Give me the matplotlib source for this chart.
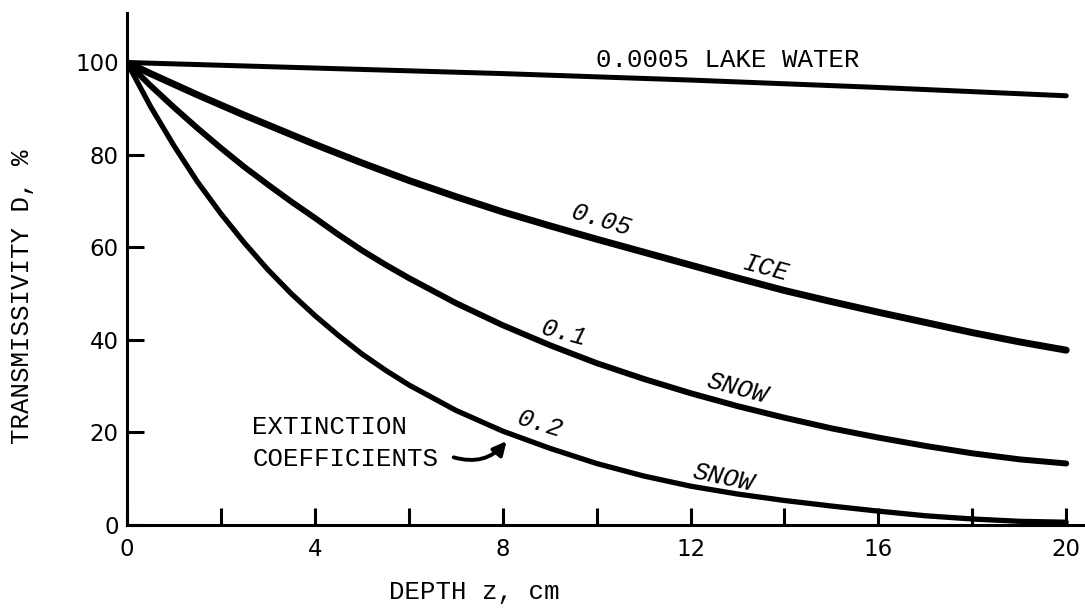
import matplotlib
matplotlib.use("Agg")
import matplotlib.pyplot as plt

# depth z, cm
depth = [0, 0.5, 1, 1.5, 2, 2.5, 3, 3.5, 4, 4.5, 5, 5.5, 6, 7, 8, 9, 10,
         11, 12, 13, 14, 15, 16, 17, 18, 19, 20]
depth_lake = [0, 4, 8, 12, 16, 20]

# transmissivity D, %
lake_water = [100, 98.8, 97.6, 96.2, 94.6, 92.8]
ice_005 = [100, 97.6, 95.3, 93.0, 90.8, 88.6, 86.5, 84.4, 82.3, 80.3, 78.3,
           76.4, 74.5, 71.0, 67.7, 64.7, 61.8, 59.0, 56.2, 53.4, 50.7,
           48.3, 46.0, 43.8, 41.6, 39.6, 37.8]
snow_01 = [100, 95.0, 90.3, 85.8, 81.5, 77.4, 73.6, 69.9, 66.4, 62.8, 59.4,
           56.3, 53.4, 48.0, 43.2, 38.9, 35.0, 31.6, 28.5, 25.7, 23.2,
           20.9, 18.9, 17.1, 15.5, 14.2, 13.3]
snow_02 = [100, 90.5, 82.0, 74.2, 67.3, 61.0, 55.2, 50.0, 45.3, 41.0, 37.0,
           33.5, 30.3, 24.8, 20.3, 16.6, 13.3, 10.6, 8.4, 6.7, 5.3,
           4.1, 3.0, 2.0, 1.3, 0.8, 0.6]

x_ticks = [0, 2, 4, 6, 8, 10, 12, 14, 16, 18, 20]
x_labels = ["0", "", "4", "", "8", "", "12", "", "16", "", "20"]
y_ticks = [0, 20, 40, 60, 80, 100]

mono = "Liberation Mono"

fig = plt.figure(figsize=(10.85, 6.08), dpi=100)
ax = fig.add_axes([127 / 1085, 1 - 525 / 608, 1 - 127 / 1085, (525 - 13) / 608])

ax.plot(depth_lake, lake_water, color="black", lw=3.6, solid_capstyle="round")
ax.plot(depth, ice_005, color="black", lw=5.0, solid_capstyle="round")
ax.plot(depth, snow_01, color="black", lw=4.3, solid_capstyle="round")
ax.plot(depth, snow_02, color="black", lw=3.8, solid_capstyle="round")

ax.set_xlim(0, 20.4)
ax.set_ylim(0, 110.7)
ax.spines["top"].set_visible(False)
ax.spines["right"].set_visible(False)
for s in ("left", "bottom"):
    ax.spines[s].set_linewidth(2.2)

ax.set_xticks(x_ticks)
ax.set_xticklabels(x_labels)
ax.set_yticks(y_ticks)
ax.tick_params(direction="in", length=12, width=2.2, labelsize=16.5, pad=6)
ax.tick_params(axis="x", pad=9)
for lab in ax.get_xticklabels() + ax.get_yticklabels():
    lab.set_family("DejaVu Sans")

txt = dict(family=mono, fontsize=18.5, color="black")
ax.text(12.8, 100.6, "0.0005 LAKE WATER", ha="center", va="center", **txt)
ax.text(10.1, 65.8, "0.05", ha="center", va="center", rotation=-17, style="italic", **txt)
ax.text(13.6, 55.6, "ICE", ha="center", va="center", rotation=-15, style="italic", **txt)
ax.text(9.3, 41.5, "0.1", ha="center", va="center", rotation=-15, style="italic", **txt)
ax.text(13.0, 29.6, "SNOW", ha="center", va="center", rotation=-15, style="italic", **txt)
ax.text(8.8, 21.8, "0.2", ha="center", va="center", rotation=-17, style="italic", **txt)
ax.text(12.7, 10.2, "SNOW", ha="center", va="center", rotation=-12, style="italic", **txt)

ax.text(2.67, 21.2, "EXTINCTION", ha="left", va="center", **txt)
ax.text(2.67, 14.2, "COEFFICIENTS", ha="left", va="center", **txt)
ax.annotate("", xy=(8.12, 18.6), xytext=(6.9, 14.8),
            arrowprops=dict(arrowstyle="-|>", color="black", lw=2.8,
                            mutation_scale=20,
                            connectionstyle="arc3,rad=0.35"))

ax.text(7.4, -14.5, "DEPTH z, cm", ha="center", va="center", clip_on=False, **txt)
fig.text(22 / 1085, 1 - 297 / 608, "TRANSMISSIVITY D, %", rotation=90,
         ha="center", va="center", **txt)

fig.savefig("out.png", dpi=100)
